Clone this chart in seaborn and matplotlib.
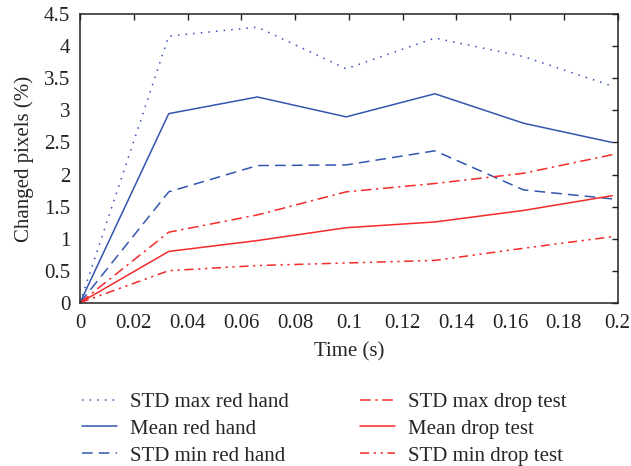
import numpy as np
import pandas as pd
import matplotlib
matplotlib.use("Agg")
import matplotlib.pyplot as plt
import seaborn as sns

time_s = [0.0, 0.033, 0.066, 0.099, 0.132, 0.165, 0.198]
std_max_red_hand = [0.0, 4.16, 4.30, 3.65, 4.13, 3.84, 3.38]
mean_red_hand = [0.0, 2.95, 3.21, 2.90, 3.26, 2.80, 2.50]
std_min_red_hand = [0.0, 1.73, 2.14, 2.15, 2.37, 1.76, 1.62]
std_max_drop_test = [0.0, 1.10, 1.37, 1.73, 1.86, 2.02, 2.31]
mean_drop_test = [0.0, 0.80, 0.97, 1.17, 1.26, 1.44, 1.67]
std_min_drop_test = [0.0, 0.50, 0.58, 0.62, 0.66, 0.85, 1.03]

labels = ["STD max red hand", "Mean red hand", "STD min red hand",
          "STD max drop test", "Mean drop test", "STD min drop test"]
series = [std_max_red_hand, mean_red_hand, std_min_red_hand,
          std_max_drop_test, mean_drop_test, std_min_drop_test]
xtick_labels = ["0", "0.02", "0.04", "0.06", "0.08", "0.1", "0.12", "0.14", "0.16", "0.18", "0.2"]
ytick_labels = ["0", "0.5", "1", "1.5", "2", "2.5", "3", "3.5", "4", "4.5"]

blue = "#3355b0"
red = "#f52a2a"
colors = [blue, blue, blue, red, red, red]
styles = [(0, (1, 4)), "-", (0, (7, 4)), (0, (7, 3, 1.5, 3)), "-", (0, (6, 3, 1.5, 3, 1.5, 3))]

sns.set_style("white")
plt.rcParams["font.family"] = ["Liberation Serif", "DejaVu Serif"]
FS = 15
plt.rcParams["font.size"] = FS

fig = plt.figure(figsize=(6.31, 4.66), dpi=100)
ax = fig.add_axes([0.1268, 0.3504, 0.9789 - 0.1268, 0.9693 - 0.3504])

for lab, vals, c, ls in zip(labels, series, colors, styles):
    df = pd.DataFrame({"t": time_s, "v": vals})
    sns.lineplot(data=df, x="t", y="v", ax=ax, color=c, linestyle=ls,
                 linewidth=1.1, label=lab, legend=False)

ax.set_xlim(0, 0.2)
ax.set_ylim(0, 4.5)
ax.set_xticks(np.linspace(0, 0.2, len(xtick_labels)))
ax.set_xticklabels(xtick_labels)
ax.set_yticks(np.linspace(0, 4.5, len(ytick_labels)))
ax.set_yticklabels(ytick_labels)
ax.set_xlabel("Time (s)", fontsize=FS, labelpad=7)
ax.set_ylabel("Changed pixels (%)", fontsize=FS, labelpad=7)
ax.tick_params(direction="in", length=4, width=1, top=True, right=True,
               labelsize=FS, colors="#222222")
ax.tick_params(axis="x", pad=8)
ax.tick_params(axis="y", pad=7)
for s in ax.spines.values():
    s.set_linewidth(1.1)
    s.set_color("#222222")

handles, labs = ax.get_legend_handles_labels()
fig.legend(handles, labs, ncol=2, loc="upper left", bbox_to_anchor=(0.117, 0.176),
           frameon=False, fontsize=FS, handlelength=1.68, handletextpad=0.63,
           columnspacing=3.4, labelspacing=0.35, borderaxespad=0)

fig.savefig("out.png", dpi=100)
